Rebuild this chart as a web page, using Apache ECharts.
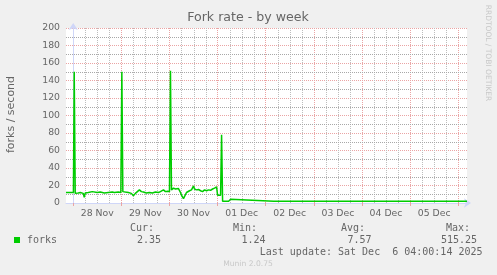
<!DOCTYPE html>
<html><head><meta charset="utf-8">
<script src="https://cdn.jsdelivr.net/npm/echarts@6/dist/echarts.min.js"></script>
<style>html,body{margin:0;padding:0;background:#f0f0f0;}#c{width:497px;height:275px;}</style>
</head><body><div id="c"></div>
<script>
// ---- data (hours are measured from 2025-11-28 00:00) ----
const chartTitle = 'Fork rate - by week';
const yAxisName = 'forks / second';
const dayLabels = ['28 Nov', '29 Nov', '30 Nov', '01 Dec', '02 Dec', '03 Dec', '04 Dec', '05 Dec'];
const yTickValues = [0, 20, 40, 60, 80, 100, 120, 140, 160, 180, 200];
const hours = [
  -3.6, -1.6, 0.1, 0.5, 1.0, 2.5, 3.5, 5.0, 5.5, 6.0, 7.5, 9.5, 10, 12, 13.5, 15.5, 17.5, 19.5, 20.5, 22.5, 23.75,
  24.25, 24.75, 26, 27.5, 29, 30, 31, 32, 33, 34, 35, 36.5, 38, 39.5, 41, 42.5, 43.5, 45, 46, 47, 48,
  48.5, 49, 49.5, 50, 50.5, 51, 51.5, 52.5, 53, 53.5, 54, 55, 55.5, 56.5, 57, 58, 59, 60, 60.5, 61.5, 62.5,
  63.5, 64.5, 65.5, 66.5, 67.5, 68.5, 69.5, 70.5, 71.5, 72, 73.5,
  74, 74.5, 77.5, 78.5, 79, 100, 125, 150, 150.5, 151, 168, 168.5, 169, 185, 196.4
];
const forks = [
  12, 12, 12, 150, 11, 11.5, 12, 11, 6.5, 11.5, 12, 13, 12, 12, 12.5, 11.5, 12, 12.5, 12, 12.5, 12,
  150, 13, 12.5, 12, 11, 8.3, 11, 13, 15, 13, 12.5, 11.5, 12, 11.5, 12.5, 12, 13, 15, 13, 13.5, 13,
  151, 15, 14, 17, 15, 16, 15, 16.5, 14.5, 12, 9, 5, 6, 12, 13, 14, 15, 19.5, 16, 15, 15.5,
  14, 13, 15, 14, 15, 14.5, 16, 17, 18.5, 9, 9,
  78, 2, 2, 4.2, 2, 2, 2, 2, 3, 2, 2, 3, 2, 2, 2
];
const seriesName = 'forks';
const statHeaders = ['Cur:', 'Min:', 'Avg:', 'Max:'];
const statValues = ['2.35', '1.24', '7.57', '515.25'];
const lastUpdate = 'Last update: Sat Dec  6 04:00:14 2025';
const sideText = 'RRDTOOL / TOBI OETIKER';
const versionText = 'Munin 2.0.75';

// ---- derived axis positions ----
const X_MIN = -3.6, X_MAX = 196.4;
const Y_MIN = yTickValues[0], Y_MAX = yTickValues[yTickValues.length - 1];
const Y_STEP = yTickValues[1] - yTickValues[0];
const midnights = [], sixHours = [], noons = [], minorY = [];
for (let h = 0; h <= X_MAX; h += 6) {
  if (h % 24 === 0) midnights.push(h); else sixHours.push(h);
}
dayLabels.forEach((d, i) => noons.push(12 + 24 * i));
for (let i = 0; i < yTickValues.length - 1; i++) minorY.push(yTickValues[i] + Y_STEP / 2);

const FONT = 'DejaVu Sans';
const MONO = 'DejaVu Sans Mono';
const TXT = '#666666';
const MAJOR = '#eaa4a4';
const MINOR = '#bdbdbd';
const MINOR_H = '#a8a8a8';
const AXIS = '#cfd6f8';

const chart = echarts.init(document.getElementById('c'), null, {renderer: 'canvas'});
const statRightX = [154, 257, 365, 470];
const valRightX = [161, 265.5, 371.5, 477];
const graphics = [];
graphics.push({type: 'text', x: 248, y: 18, style: {text: chartTitle, font: '12.6px ' + FONT, fill: TXT, textAlign: 'center', textVerticalAlign: 'middle'}});
graphics.push({type: 'text', x: 11, y: 114.5, rotation: Math.PI / 2, style: {text: yAxisName, font: '11px ' + FONT, fill: TXT, textAlign: 'center', textVerticalAlign: 'middle'}});
graphics.push({type: 'text', x: 488, y: 53, rotation: -Math.PI / 2, style: {text: sideText, font: '7.5px ' + FONT, fill: '#c8c8c8', textAlign: 'center', textVerticalAlign: 'middle'}});
graphics.push({type: 'rect', shape: {x: 14, y: 237, width: 6, height: 6}, style: {fill: '#00cc00'}});
graphics.push({type: 'text', x: 27, y: 240, style: {text: seriesName, font: '10px ' + MONO, fill: TXT, textAlign: 'left', textVerticalAlign: 'middle'}});
statHeaders.forEach((t, i) => {
  graphics.push({type: 'text', x: statRightX[i], y: 228, style: {text: t, font: '10px ' + MONO, fill: TXT, textAlign: 'right', textVerticalAlign: 'middle'}});
  graphics.push({type: 'text', x: valRightX[i], y: 240, style: {text: statValues[i], font: '10px ' + MONO, fill: TXT, textAlign: 'right', textVerticalAlign: 'middle'}});
});
graphics.push({type: 'text', x: 482.5, y: 252, style: {text: lastUpdate, font: '10px ' + MONO, fill: TXT, textAlign: 'right', textVerticalAlign: 'middle'}});
graphics.push({type: 'text', x: 248, y: 264, style: {text: versionText, font: '7.6px ' + FONT, fill: '#c8c8c8', textAlign: 'center', textVerticalAlign: 'middle'}});

// vertical minor grid lines, spanning the full value range
function renderMinorV(params, api) {
  const h = api.value(0);
  const a = api.coord([h, Y_MIN]), b = api.coord([h, Y_MAX]);
  const x = Math.round(a[0]) + 0.5;
  return {type: 'line', shape: {x1: x, y1: a[1], x2: x, y2: b[1]}, style: {stroke: MINOR, lineWidth: 1, lineDash: [1, 1]}, silent: true};
}
// horizontal minor grid lines: item x carries the hour, y the level
function renderMinorH(params, api) {
  const v = api.value(1);
  const a = api.coord([X_MIN, v]), b = api.coord([X_MAX, v]);
  const y = Math.round(a[1]) + 0.5;
  return {type: 'line', shape: {x1: a[0], y1: y, x2: b[0], y2: y}, style: {stroke: MINOR_H, lineWidth: 1, lineDash: [1, 1]}, silent: true};
}

chart.setOption({
  animation: false,
  backgroundColor: '#f0f0f0',
  grid: {left: 66, right: 30, top: 28, bottom: 72, show: true, backgroundColor: '#ffffff', borderWidth: 0},
  xAxis: {
    type: 'value', min: X_MIN, max: X_MAX, position: 'bottom',
    axisLine: {show: true, lineStyle: {color: AXIS, width: 1}, symbol: ['none', 'arrow'], symbolSize: [7, 7], symbolOffset: [0, 4]},
    axisTick: {show: true, customValues: midnights, length: 3, inside: false, lineStyle: {color: MAJOR}},
    axisLabel: {customValues: noons, formatter: v => dayLabels[Math.round((v - 12) / 24)], color: TXT, fontSize: 9.3, fontFamily: FONT, margin: 6},
    splitLine: {show: true, lineStyle: {color: MAJOR, type: [1, 1], width: 1}}
  },
  yAxis: {
    type: 'value', min: Y_MIN, max: Y_MAX, interval: Y_STEP, position: 'left',
    axisLine: {show: true, lineStyle: {color: AXIS, width: 1}, symbol: ['none', 'arrow'], symbolSize: [7, 7], symbolOffset: [0, 5]},
    axisTick: {show: false},
    axisLabel: {color: TXT, fontSize: 9.3, fontFamily: FONT, margin: 6},
    splitLine: {show: true, lineStyle: {color: MAJOR, type: [1, 1], width: 1}}
  },
  series: [
    {
      type: 'custom', name: 'grid-minor-v', silent: true, z: 1,
      renderItem: renderMinorV,
      data: sixHours.map(h => [h, Y_MIN]),
      clip: false
    },
    {
      type: 'custom', name: 'grid-minor-h', silent: true, z: 1,
      renderItem: renderMinorH,
      data: minorY.map((v, i) => [sixHours[i], v]),
      clip: false
    },
    {
      type: 'line', name: seriesName,
      data: hours.map((h, i) => [h, forks[i]]),
      showSymbol: false, symbol: 'none', z: 5,
      lineStyle: {color: '#00cc00', width: 1.5}
    }
  ],
  graphic: graphics
});
</script></body></html>
